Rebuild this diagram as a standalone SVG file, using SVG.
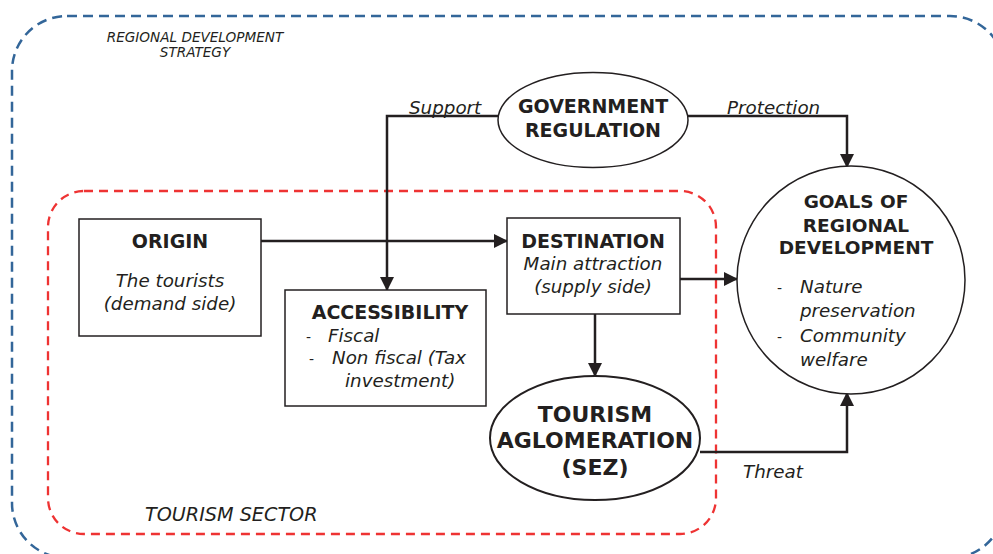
<svg xmlns="http://www.w3.org/2000/svg" width="993" height="554" viewBox="0 0 993 554">
<defs>
<marker id="arr" markerWidth="14" markerHeight="14" refX="13" refY="7" orient="auto" markerUnits="userSpaceOnUse" viewBox="0 0 14 14">
<path d="M0,0 L14,7 L0,14 z" fill="#231f20"/>
</marker>
<style>
text{font-family:"DejaVu Sans","Verdana",sans-serif;fill:#231f20}
.b{font-weight:bold;font-size:19px}
.g{font-weight:bold;font-size:18.5px}
.it{font-style:italic;font-size:18.3px}
.node{fill:#fff;stroke:#231f20;stroke-width:1.5}
.conn{fill:none;stroke:#231f20;stroke-width:2.5}
</style>
</defs>
<rect width="993" height="554" fill="#fff"/>
<g id="regional-strategy">
<rect x="12" y="16" width="993" height="542" rx="55" fill="none" stroke="#336699" stroke-width="2.5" stroke-dasharray="10,6"/>
<text x="195" y="42" text-anchor="middle" font-style="italic" font-size="13.6">REGIONAL DEVELOPMENT</text>
<text x="195" y="57" text-anchor="middle" font-style="italic" font-size="13.6">STRATEGY</text>
</g>
<g id="tourism-sector">
<rect x="48" y="191" width="668" height="343" rx="36" fill="none" stroke="#ee3333" stroke-width="2.3" stroke-dasharray="9,6"/>
<text x="145" y="521" font-style="italic" font-size="19.2">TOURISM SECTOR</text>
</g>
<g id="connectors">
<path class="conn" d="M261,241 H507" marker-end="url(#arr)"/>
<path class="conn" d="M498,116 H387 V290" marker-end="url(#arr)"/>
<path class="conn" d="M688,116 H847 V167" marker-end="url(#arr)"/>
<path class="conn" d="M680,279 H737" marker-end="url(#arr)"/>
<path class="conn" d="M595,314 V376" marker-end="url(#arr)"/>
<path class="conn" d="M700,452 H847 V393" marker-end="url(#arr)"/>
<text x="409" y="114" class="it">Support</text>
<text x="727" y="114" class="it">Protection</text>
<text x="743" y="478" class="it">Threat</text>
</g>
<g id="government">
<ellipse cx="593" cy="120" rx="95" ry="47.5" class="node"/>
<text x="593" y="113" text-anchor="middle" class="b">GOVERNMENT</text>
<text x="593" y="137" text-anchor="middle" class="b">REGULATION</text>
</g>
<g id="origin">
<rect x="79" y="219" width="182" height="117" class="node"/>
<text x="170" y="248" text-anchor="middle" class="b">ORIGIN</text>
<text x="170" y="287" text-anchor="middle" class="it">The tourists</text>
<text x="170" y="310" text-anchor="middle" class="it">(demand side)</text>
</g>
<g id="accessibility">
<rect x="285" y="290" width="201" height="116" class="node"/>
<text x="390" y="319" text-anchor="middle" class="b">ACCESSIBILITY</text>
<text x="306" y="342" font-size="14">-</text>
<text x="328" y="342" class="it">Fiscal</text>
<text x="309" y="364" font-size="14">-</text>
<text x="332" y="364" class="it">Non fiscal (Tax</text>
<text x="345" y="387" class="it">investment)</text>
</g>
<g id="destination">
<rect x="507" y="218" width="173" height="96" class="node"/>
<text x="593" y="248" text-anchor="middle" class="b">DESTINATION</text>
<text x="593" y="270" text-anchor="middle" class="it">Main attraction</text>
<text x="593" y="293" text-anchor="middle" class="it">(supply side)</text>
</g>
<g id="tourism-aglomeration">
<ellipse cx="595" cy="438" rx="105" ry="62" fill="#fff" stroke="#231f20" stroke-width="2"/>
<text x="595" y="422" text-anchor="middle" font-weight="bold" font-size="22">TOURISM</text>
<text x="595" y="448" text-anchor="middle" font-weight="bold" font-size="22">AGLOMERATION</text>
<text x="595" y="475" text-anchor="middle" font-weight="bold" font-size="22">(SEZ)</text>
</g>
<g id="goals">
<circle cx="851" cy="280" r="114" class="node" stroke-width="1.2"/>
<text x="856" y="208" text-anchor="middle" class="g">GOALS OF</text>
<text x="856" y="232" text-anchor="middle" class="g">REGIONAL</text>
<text x="856" y="254" text-anchor="middle" class="g">DEVELOPMENT</text>
<text x="777" y="293" font-size="14">-</text>
<text x="800" y="293" class="it">Nature</text>
<text x="800" y="317" class="it">preservation</text>
<text x="777" y="342" font-size="14">-</text>
<text x="800" y="342" class="it">Community</text>
<text x="800" y="366" class="it">welfare</text>
</g>
</svg>
